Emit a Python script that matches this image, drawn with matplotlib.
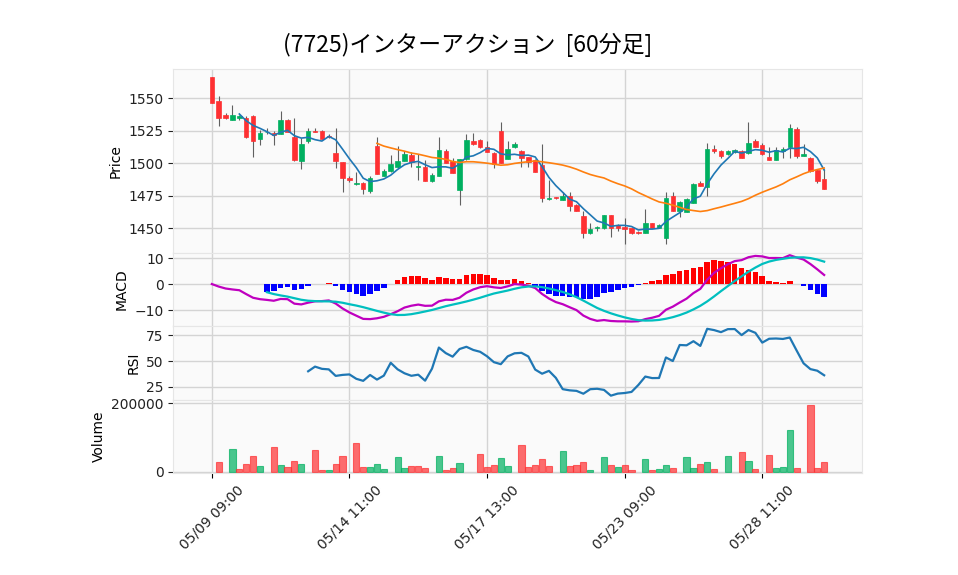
import numpy as np
import pandas as pd
import matplotlib
matplotlib.use('Agg')
import matplotlib.pyplot as plt

plt.rcParams['font.family'] = ['DejaVu Sans', 'Noto Sans CJK JP']

title = '(7725)インターアクション  [60分足]'
days = ['05/09', '05/10', '05/13', '05/14', '05/15', '05/16', '05/17', '05/20',
        '05/21', '05/22', '05/23', '05/24', '05/27', '05/28', '05/29']
hours = ['09:00', '10:00', '11:00', '12:00', '13:00', '14:00']

opens = [1566, 1548, 1537, 1533.6, 1534.6, 1535, 1536.4, 1519, 1524, 1523.5,
         1522.8, 1533.3, 1520.5, 1502, 1517, 1524.6, 1525, 1520.8, 1507.7, 1500.8,
         1489, 1483.8, 1485, 1478.7, 1513.3, 1490.5, 1494, 1497, 1502, 1506.4,
         1497.2, 1497, 1486.7, 1490.5, 1509.5, 1502, 1479.7, 1503, 1517, 1518,
         1512.8, 1507.7, 1525, 1503.6, 1512.8, 1509.5, 1504.6, 1502.6, 1498.7, 1472.3,
         1473.8, 1472, 1474.9, 1468, 1459.5, 1446.7, 1450, 1450, 1460, 1452.6,
         1451, 1450, 1447.4, 1446.7, 1453.8, 1450.5, 1442.8, 1474.9, 1463.6, 1462.8,
         1469.7, 1484.9, 1482, 1511, 1509.7, 1507, 1508.5, 1509.5, 1507.7, 1517,
         1514, 1505, 1502.6, 1509.5, 1512.8, 1526.4, 1506, 1503.8, 1494.9, 1488]
highs = [1566.5, 1551.8, 1539, 1545, 1537.5, 1536.5, 1537, 1526, 1527.5, 1524.5,
         1540, 1534, 1535, 1519.4, 1527, 1527.4, 1525.5, 1522.4, 1527, 1501,
         1490, 1493, 1486, 1490, 1520, 1495.5, 1506.4, 1513.6, 1509.5, 1508.5,
         1507, 1502.6, 1492.6, 1520, 1511, 1504.4, 1503.5, 1522.6, 1523, 1519,
         1517.2, 1508.5, 1532, 1517.4, 1516.3, 1510, 1505, 1503, 1514.6, 1487.2,
         1474.5, 1478.2, 1477.7, 1468.5, 1463.3, 1453.8, 1451.5, 1460.5, 1460.5, 1453,
         1457.7, 1450.5, 1448, 1464.9, 1454.3, 1453, 1478.2, 1478.2, 1471, 1473,
         1484.5, 1486.4, 1516, 1514, 1510, 1510.5, 1511, 1510, 1532, 1518.5,
         1516, 1512.8, 1512.8, 1512.8, 1530, 1528, 1514.6, 1504.5, 1495.5, 1496]
lows = [1546, 1529, 1534, 1533, 1533.5, 1519.2, 1504.6, 1514, 1522.6, 1514,
        1522.3, 1524, 1502, 1496, 1516, 1524, 1519, 1519.2, 1496.7, 1477.7,
        1486, 1483.5, 1476.2, 1477.5, 1492, 1490, 1493.5, 1496.5, 1501.5, 1497.4,
        1487.2, 1486.5, 1486, 1490, 1500, 1492.5, 1468, 1502.5, 1514, 1512,
        1508.5, 1496.7, 1500, 1503, 1512, 1496.9, 1497.4, 1493, 1470.5, 1472,
        1472.8, 1471.5, 1463.6, 1463, 1442.3, 1446, 1448.2, 1449.5, 1443.6, 1448,
        1437.7, 1446, 1446, 1446.3, 1450, 1450, 1437.7, 1463.3, 1459, 1462.5,
        1469.2, 1482.3, 1474.9, 1507.7, 1503.8, 1506.5, 1508, 1503.8, 1507, 1512.3,
        1506.5, 1502.3, 1502.3, 1503.8, 1503.8, 1504.4, 1505.5, 1493.5, 1484.6, 1480]
closes = [1546.7, 1534.6, 1534.6, 1537, 1536.7, 1520.5, 1517, 1523.3, 1524.3, 1522,
          1533, 1524.4, 1502.6, 1515, 1525, 1524, 1519, 1520.5, 1502, 1489,
          1487, 1484.9, 1480, 1489, 1492, 1494, 1499.5, 1502, 1507, 1500.8,
          1498.2, 1486.7, 1491, 1510, 1500.5, 1492.8, 1503, 1518, 1514.6, 1512.8,
          1509, 1499.5, 1500.5, 1510.8, 1515, 1504.4, 1500.8, 1493.6, 1473.6, 1473.4,
          1473, 1475, 1467.4, 1463.6, 1446.7, 1449.5, 1451, 1460, 1450.5, 1450.5,
          1449.5, 1446.7, 1446.7, 1453.8, 1450.5, 1452.6, 1473, 1463.6, 1470.5, 1472.6,
          1484, 1482.8, 1511, 1509.5, 1506, 1509.5, 1510, 1504.4, 1516, 1512.8,
          1507, 1502.6, 1510.3, 1511, 1527, 1506, 1507.2, 1494, 1486.7, 1480.3]
volumes = [0, 29100, 0, 67000, 8700, 23300, 46600, 17500, 0, 72800,
           20400, 14600, 32000, 23300, 0, 64100, 5800, 5800, 23300, 46600,
           0, 84500, 14600, 14600, 23300, 8700, 0, 43700, 11700, 16500,
           16500, 11700, 0, 45600, 5800, 10700, 26200, 0, 0, 51500,
           13600, 19400, 39800, 17500, 0, 77700, 13600, 19400, 36900, 16500,
           0, 61200, 16500, 19400, 29100, 5800, 0, 43700, 19400, 13600,
           19400, 5800, 0, 37900, 5800, 8700, 20400, 11700, 0, 43700,
           11700, 23300, 29100, 8700, 0, 46600, 0, 58200, 32000, 8700,
           0, 49500, 11700, 14600, 122300, 11700, 0, 194200, 11700, 29100]

tick_idx = [0, 20, 40, 60, 80]

UP = '#00b060'
DOWN = '#fe3032'
BG = '#fafafa'
GRID = '#d4d4d4'

n = len(closes)
x = np.arange(n)
o = np.array(opens); h = np.array(highs); l = np.array(lows); c = np.array(closes)
v = np.array(volumes, dtype=float)
labels = [f'{days[k // 6]} {hours[k % 6]}' for k in range(n)]

s = pd.Series(c)
ma5 = s.rolling(5).mean()
ma25 = s.rolling(25).mean()
macd = s.ewm(span=12, adjust=False).mean() - s.ewm(span=26, adjust=False).mean()
signal = macd.rolling(9).mean()
hist = macd - signal
d = s.diff()
up_m = d.clip(lower=0).rolling(14).mean()
dn_m = (-d.clip(upper=0)).rolling(14).mean()
rsi = 100 * up_m / (up_m + dn_m)

fig = plt.figure(figsize=(9.58, 5.75), dpi=100)
L, W = 0.1809, 0.7189
ax1 = fig.add_axes([L, 0.5603, W, 0.3192])
ax2 = fig.add_axes([L, 0.4327, W, 0.1276], sharex=ax1)
ax3 = fig.add_axes([L, 0.3050, W, 0.1277], sharex=ax1)
ax4 = fig.add_axes([L, 0.1774, W, 0.1276], sharex=ax1)

for ax in (ax1, ax2, ax3, ax4):
    ax.set_facecolor(BG)
    ax.set_axisbelow(True)
    ax.grid(True, color=GRID, linewidth=1.0)
    for sp in ax.spines.values():
        sp.set_color('#e6e6e6')
        sp.set_linewidth(0.8)
    ax.tick_params(axis='y', labelsize=10, colors='#222222', length=3.5, width=0.8)
    ax.set_xticks(tick_idx)

# Price panel
is_up = c >= o
ccol = np.where(is_up, UP, DOWN)
ax1.vlines(x, l, h, color='#606060', linewidth=0.8, zorder=2)
body_h = np.maximum(np.abs(c - o), 0.3)
ax1.bar(x, body_h, bottom=np.minimum(o, c), width=0.65, color=ccol,
        edgecolor=ccol, linewidth=0.5, zorder=3)
ax1.plot(x, ma5, color='#1f77b4', linewidth=1.2, zorder=4)
ax1.plot(x, ma25, color='#ff7f0e', linewidth=1.2, zorder=4)
ax1.set_ylim(1431.2, 1572.3)
ax1.set_yticks([1450, 1475, 1500, 1525, 1550])
ax1.set_ylabel('Price', fontsize=10)

# MACD panel
hv = hist.values
hcol = np.where(hv >= 0, '#ff0000', '#0000ff')
ok = ~np.isnan(hv)
ax2.bar(x[ok], hv[ok], width=0.8, color=hcol[ok], zorder=2)
ax2.plot(x, macd, color='m', linewidth=1.6, zorder=3)
ax2.plot(x, signal, color='c', linewidth=1.6, zorder=3)
ax2.set_ylim(-16.2, 12.0)
ax2.set_yticks([-10, 0, 10])
ax2.set_ylabel('MACD', fontsize=10)

# RSI panel
ax3.plot(x, rsi, color='#1f77b4', linewidth=1.6)
ax3.set_ylim(12.2, 84.1)
ax3.set_yticks([25, 50, 75])
ax3.set_ylabel('RSI', fontsize=10)

# Volume panel
vup = np.r_[True, c[1:] >= c[:-1]]
vface = np.where(vup, UP, DOWN)
m = v > 0
ax4.bar(x[m], v[m], width=0.9, color=vface[m], alpha=0.7, edgecolor=vface[m],
        linewidth=0.8, zorder=2)
ax4.set_ylim(-2900, 210800)
ax4.set_yticks([0, 200000])
ax4.set_yticklabels(['0', '200000'])
ax4.set_ylabel('Volume', fontsize=10)

ax4.set_xlim(-5.6, 94.5)
ax4.set_xticklabels([labels[k] for k in tick_idx], rotation=45, ha='center',
                    fontsize=10, color='#222222')
ax4.tick_params(axis='x', length=3.5, width=0.8)
for ax in (ax1, ax2, ax3):
    ax.tick_params(axis='x', length=0, labelbottom=False)

fig.text(0.4885, 0.9217, title, ha='center', va='center', fontsize=16.5,
         family=['Noto Sans CJK JP', 'DejaVu Sans'])

fig.savefig('out.png', dpi=100, facecolor='white')
